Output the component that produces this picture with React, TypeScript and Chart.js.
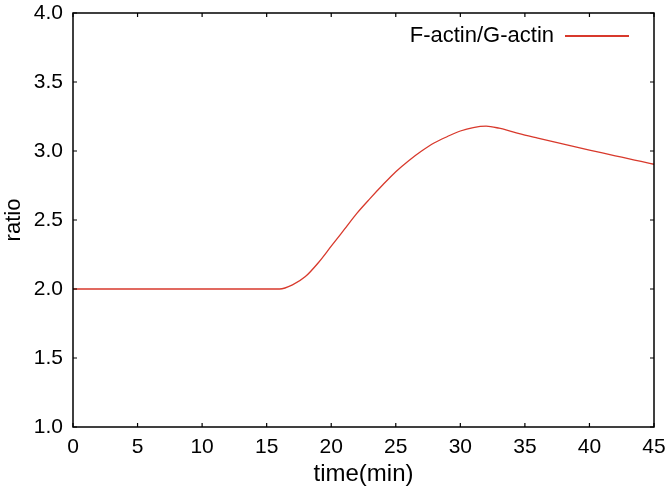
import React, { useEffect, useRef } from "react";
import { Chart, registerables } from "chart.js";

Chart.register(...registerables);

const timeMin = [0,1,2,3,4,5,6,7,8,9,10,11,12,13,14,15,16,17,18,19,20,21,22,23,24,25,26,27,28,29,30,31,32,33,34,35,36,37,38,39,40,41,42,43,44,45];
const ratio = [2.0,2.0,2.0,2.0,2.0,2.0,2.0,2.0,2.0,2.0,2.0,2.0,2.0,2.0,2.0,2.0,2.0,2.03,2.09,2.19,2.31,2.43,2.55,2.655,2.755,2.85,2.93,3.0,3.06,3.105,3.145,3.17,3.18,3.165,3.14,3.115,3.093,3.071,3.05,3.028,3.007,2.986,2.965,2.945,2.924,2.904];
const xTicks = [0,5,10,15,20,25,30,35,40,45];
const yTicks = [1.0,1.5,2.0,2.5,3.0,3.5,4.0];
const seriesLabel = "F-actin/G-actin";
const xTitle = "time(min)";
const yTitle = "ratio";

const LINE_COLOR = "#d8392c";
const FONT = "'Liberation Sans', Arial, Helvetica, sans-serif";

const framePlugin = {
  id: "frameTicks",
  afterDraw(chart: any) {
    const { ctx, chartArea: a, scales } = chart;
    const xs = scales.x;
    const ys = scales.y;
    ctx.save();
    ctx.strokeStyle = "#000";
    ctx.lineWidth = 1.5;
    ctx.strokeRect(a.left, a.top, a.right - a.left, a.bottom - a.top);
    ctx.lineWidth = 1.2;
    const L = 4;
    ctx.beginPath();
    xTicks.forEach((t) => {
      const px = xs.getPixelForValue(t);
      ctx.moveTo(px, a.bottom);
      ctx.lineTo(px, a.bottom - L);
      ctx.moveTo(px, a.top);
      ctx.lineTo(px, a.top + L);
    });
    yTicks.forEach((t) => {
      const py = ys.getPixelForValue(t);
      ctx.moveTo(a.left, py);
      ctx.lineTo(a.left + L, py);
      ctx.moveTo(a.right, py);
      ctx.lineTo(a.right - L, py);
    });
    ctx.stroke();
    // legend
    ctx.font = "22px " + FONT;
    ctx.fillStyle = "#000";
    ctx.textAlign = "right";
    ctx.textBaseline = "middle";
    const ly = a.top + 23;
    const lineEnd = a.right - 25;
    const lineStart = lineEnd - 64;
    ctx.fillText(seriesLabel, lineStart - 11, ly);
    ctx.strokeStyle = LINE_COLOR;
    ctx.lineWidth = 2;
    ctx.beginPath();
    ctx.moveTo(lineStart, ly);
    ctx.lineTo(lineEnd, ly);
    ctx.stroke();
    ctx.restore();
  },
};

const zeroPad = (s: any) => {
  s.paddingTop = 0;
  s.paddingBottom = 0;
  s.paddingLeft = 0;
  s.paddingRight = 0;
};

export default function App() {
  const ref = useRef<HTMLCanvasElement | null>(null);
  useEffect(() => {
    if (!ref.current) return;
    const chart = new Chart(ref.current, {
      type: "line",
      data: {
        datasets: [
          {
            label: seriesLabel,
            data: timeMin.map((t, i) => ({ x: t, y: ratio[i] })),
            borderColor: LINE_COLOR,
            borderWidth: 1.3,
            pointRadius: 0,
            cubicInterpolationMode: "monotone",
            fill: false,
          },
        ],
      },
      options: {
        animation: false,
        responsive: false,
        maintainAspectRatio: false,
        layout: { padding: { top: 13, right: 17, left: 0, bottom: 0 } },
        plugins: { legend: { display: false }, tooltip: { enabled: false } },
        scales: {
          x: {
            type: "linear",
            min: 0,
            max: 45,
            afterBuildTicks: (s: any) => {
              s.ticks = xTicks.map((v) => ({ value: v }));
            },
            afterFit: (s: any) => {
              s.height = 66;
              zeroPad(s);
            },
            grid: { display: false, drawTicks: false },
            border: { display: false },
            ticks: { color: "#000", font: { size: 21, family: FONT }, padding: 8, maxRotation: 0 },
            title: { display: true, text: xTitle, color: "#000", font: { size: 24, family: FONT }, padding: { top: 0, bottom: 4 } },
          },
          y: {
            type: "linear",
            min: 1,
            max: 4,
            afterBuildTicks: (s: any) => {
              s.ticks = yTicks.map((v) => ({ value: v }));
            },
            afterFit: (s: any) => {
              s.width = 73;
              zeroPad(s);
            },
            grid: { display: false, drawTicks: false },
            border: { display: false },
            ticks: {
              color: "#000",
              font: { size: 21, family: FONT },
              padding: 10,
              callback: (v: any) => Number(v).toFixed(1),
            },
            title: { display: true, text: yTitle, color: "#000", font: { size: 22, family: FONT }, padding: { top: 1, bottom: 0 } },
          },
        },
      },
      plugins: [framePlugin],
    });
    return () => chart.destroy();
  }, []);
  return (
    <div style={{ position: "absolute", left: 0, top: 0, width: 671, height: 493, background: "#fff" }}>
      <canvas ref={ref} width={671} height={493} style={{ width: 671, height: 493 }} />
    </div>
  );
}
